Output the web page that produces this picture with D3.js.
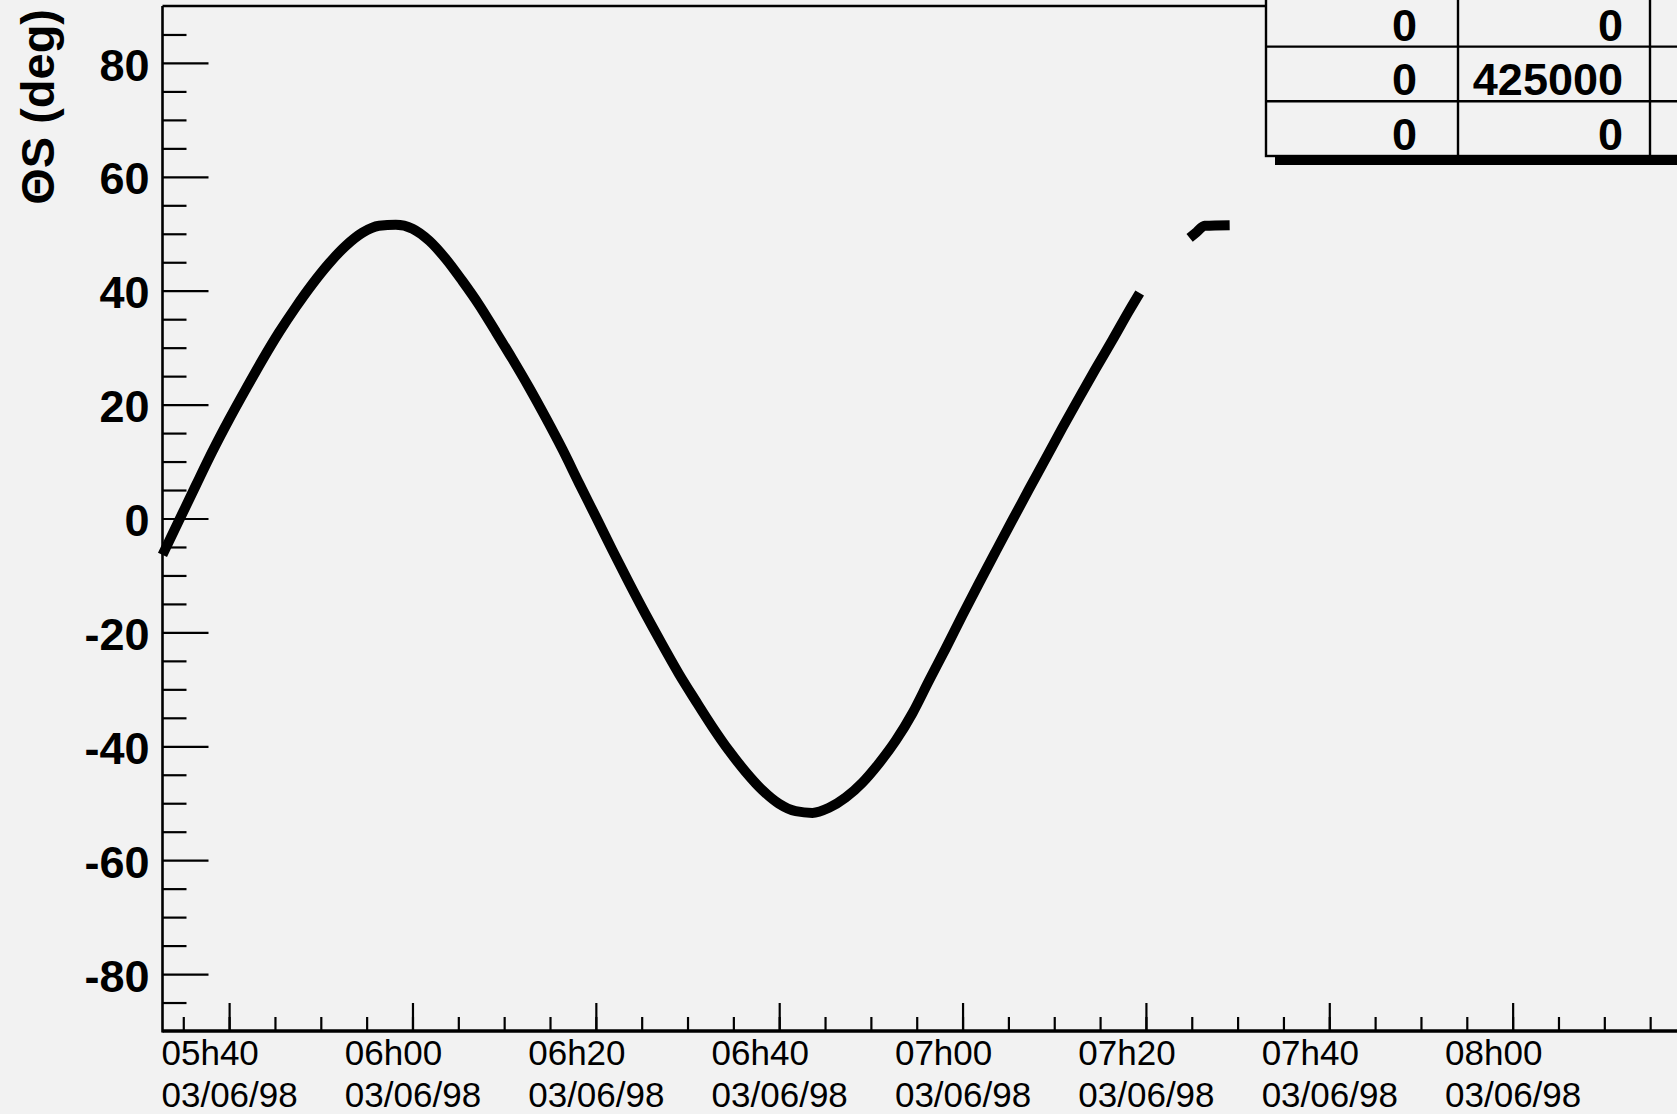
<!DOCTYPE html>
<html>
<head>
<meta charset="utf-8">
<script src="https://cdn.jsdelivr.net/npm/d3@7"></script>
<style>
  html, body { margin: 0; padding: 0; background: #f2f2f2; overflow: hidden; }
  svg { display: block; font-family: "Liberation Sans", Arial, Helvetica, sans-serif; }
</style>
</head>
<body>
<svg id="chart" width="1677" height="1114"></svg>
<script>
// date of the run, and the two stretches of data (time, theta S in deg)
const day = "03/06/98";

const pass1Times = ["05:32:44","05:34:33","05:36:22","05:38:11","05:40:00","05:41:49","05:43:39","05:45:27",
    "05:47:16","05:49:06","05:50:54","05:52:44","05:54:33","05:56:21","05:58:11",
    "06:00:00","06:01:49","06:03:38","06:05:27","06:07:16","06:09:05","06:10:54","06:12:43","06:14:32",
    "06:16:22","06:18:10","06:20:00","06:21:49","06:23:37","06:25:27","06:27:16","06:29:04","06:30:53",
    "06:32:43","06:34:32","06:36:21","06:38:10","06:39:59","06:41:48","06:43:37",
    "06:45:26","06:47:15","06:49:04","06:50:53","06:52:43","06:54:32","06:56:20","06:58:10","06:59:59",
    "07:01:47","07:03:37","07:05:26","07:07:14","07:09:04","07:10:53","07:12:41","07:14:31","07:16:20",
    "07:18:08","07:19:19"];
const pass1Theta = [-6.4, -0.3, 5.8, 11.8, 17.4, 22.7, 27.9, 32.7,
    37.1, 41.2, 44.8, 47.9, 50.2, 51.4, 51.6,
    50.9, 48.8, 45.6, 41.7, 37.5, 32.8, 28.0, 23.0, 17.7,
    12.1, 6.2, 0.3, -5.6, -11.3, -16.9, -22.2, -27.3, -32.0,
    -36.6, -40.8, -44.5, -47.7, -50.1, -51.4, -51.7,
    -50.8, -49.0, -46.4, -43.0, -39.0, -34.2, -28.5, -22.8, -17.0,
    -11.4, -5.8, -0.3, 5.1, 10.5, 15.9, 21.1, 26.3, 31.3,
    36.4, 39.6];

const pass2Times = ["07:24:46","07:25:32","07:26:24","07:29:08"];
const pass2Theta = [49.3, 50.3, 51.4, 51.5];

const xStart = "05:32:44";
const xEnd = "08:20:00";
const yMajorTicks = [-80, -60, -40, -20, 0, 20, 40, 60, 80];
const yTitle = "\u0398S (deg)";
const statsCells = [["0", "0"], ["0", "425000"], ["0", "0"]];

const parseTime = d3.timeParse("%d/%m/%y %H:%M:%S");
const toDate = t => parseTime(`${day} ${t}`);
const fmtClock = d3.timeFormat("%Hh%M");
const fmtDay = d3.timeFormat("%d/%m/%y");

const pass1 = pass1Times.map((t, i) => ({ t: toDate(t), v: pass1Theta[i] }));
const pass2 = pass2Times.map((t, i) => ({ t: toDate(t), v: pass2Theta[i] }));

const svg = d3.select("#chart");
const width = 1677;
const frameLeft = 162.5, frameTop = 6, frameBottom = 1031;

const xScale = d3.scaleTime()
    .domain([toDate(xStart), toDate(xEnd)])
    .range([frameLeft, 1696]);

const yScale = d3.scaleLinear()
    .domain([-90, 90])
    .range([frameBottom, frameTop]);

svg.append("rect").attr("width", width).attr("height", 1114).attr("fill", "#f2f2f2");

// y axis: minor every 5, major every 20
const yMinor = d3.axisLeft(yScale)
    .tickValues(d3.range(-85, 86, 5).filter(v => v % 20 !== 0))
    .tickSize(-24).tickSizeOuter(0).tickFormat("");
const yMinorG = svg.append("g").attr("transform", `translate(${frameLeft},0)`).call(yMinor);
yMinorG.select(".domain").remove();
yMinorG.selectAll(".tick line").attr("stroke-width", 2.2);

const yAxis = d3.axisLeft(yScale)
    .tickValues(yMajorTicks)
    .tickSize(-46).tickSizeOuter(0).tickPadding(13)
    .tickFormat(d => String(d));
const yAxisG = svg.append("g").attr("transform", `translate(${frameLeft},0)`).call(yAxis);
yAxisG.select(".domain").remove();
yAxisG.selectAll(".tick line").attr("stroke-width", 2.2);
yAxisG.attr("font-family", null).attr("font-size", null);
yAxisG.selectAll(".tick text")
    .attr("font-size", 45)
    .attr("font-weight", "bold")
    .attr("dy", "0.38em");

// x axis: minor every 5 min, major every 20 min (only those inside the picture)
const inView = d => xScale(d) < width;
const xMinor = d3.axisBottom(xScale)
    .tickValues(xScale.ticks(d3.timeMinute.every(5)).filter(inView))
    .tickSize(-14).tickSizeOuter(0).tickFormat("");
const xMinorG = svg.append("g").attr("transform", `translate(0,${frameBottom})`).call(xMinor);
xMinorG.select(".domain").remove();
xMinorG.selectAll(".tick line").attr("stroke-width", 2.2);

const xAxis = d3.axisBottom(xScale)
    .tickValues(xScale.ticks(d3.timeMinute.every(20)).filter(inView))
    .tickSize(-28).tickSizeOuter(0);
const xAxisG = svg.append("g").attr("transform", `translate(0,${frameBottom})`).call(xAxis);
xAxisG.select(".domain").remove();
xAxisG.selectAll(".tick line").attr("stroke-width", 2.2);
xAxisG.attr("font-family", null).attr("font-size", null);
xAxisG.selectAll(".tick text").remove();
xAxisG.selectAll(".tick").each(function (d) {
    const label = d3.select(this).append("text")
        .attr("fill", "#000")
        .attr("font-size", 35)
        .attr("text-anchor", "start");
    const l1 = label.append("tspan").attr("y", 34).text(fmtClock(d));
    const l2 = label.append("tspan").attr("y", 76).text(fmtDay(d));
    const w = l2.node().getComputedTextLength();
    l1.attr("x", -w / 2);
    l2.attr("x", -w / 2);
});

// frame
svg.append("line").attr("x1", frameLeft).attr("x2", frameLeft).attr("y1", frameTop).attr("y2", frameBottom + 1.5)
    .attr("stroke", "#000").attr("stroke-width", 2.6);
svg.append("line").attr("x1", frameLeft).attr("x2", width).attr("y1", frameBottom).attr("y2", frameBottom)
    .attr("stroke", "#000").attr("stroke-width", 3.4);
svg.append("line").attr("x1", frameLeft).attr("x2", 1266).attr("y1", frameTop).attr("y2", frameTop)
    .attr("stroke", "#000").attr("stroke-width", 2.4);

// y title
svg.append("text")
    .attr("transform", "rotate(-90)")
    .attr("x", -9)
    .attr("y", 54)
    .attr("text-anchor", "end")
    .attr("font-size", 47)
    .attr("font-weight", "bold")
    .text(yTitle);

// data
const line = d3.line()
    .x(d => xScale(d.t))
    .y(d => yScale(d.v))
    .curve(d3.curveMonotoneX);

[pass1, pass2].forEach(pass => {
    svg.append("path")
        .datum(pass)
        .attr("d", line)
        .attr("fill", "none")
        .attr("stroke", "#000")
        .attr("stroke-width", 10)
        .attr("stroke-linejoin", "round");
});

// stats box (top right, cut by the canvas edge)
const boxLeft = 1266, boxBottom = 156, rowH = 54.7, colW = 192;
const cellPad = [41, 27];
const stats = svg.append("g");
stats.append("rect")
    .attr("x", boxLeft + 9).attr("y", 0)
    .attr("width", 600).attr("height", boxBottom + 9)
    .attr("fill", "#000");
stats.append("rect")
    .attr("x", boxLeft).attr("y", -30)
    .attr("width", 600).attr("height", boxBottom + 30)
    .attr("fill", "#f2f2f2").attr("stroke", "#000").attr("stroke-width", 2.4);
[1, 2].forEach(i => {
    stats.append("line")
        .attr("x1", boxLeft).attr("x2", width)
        .attr("y1", boxBottom - i * rowH).attr("y2", boxBottom - i * rowH)
        .attr("stroke", "#000").attr("stroke-width", 2.4);
    stats.append("line")
        .attr("x1", boxLeft + i * colW).attr("x2", boxLeft + i * colW)
        .attr("y1", -10).attr("y2", boxBottom)
        .attr("stroke", "#000").attr("stroke-width", 2.4);
});
statsCells.forEach((row, r) => {
    row.forEach((cell, c) => {
        stats.append("text")
            .attr("x", boxLeft + (c + 1) * colW - cellPad[c])
            .attr("y", boxBottom - (2 - r) * rowH - 6)
            .attr("text-anchor", "end")
            .attr("font-size", 45)
            .attr("font-weight", "bold")
            .text(cell);
    });
});
</script>
</body>
</html>
